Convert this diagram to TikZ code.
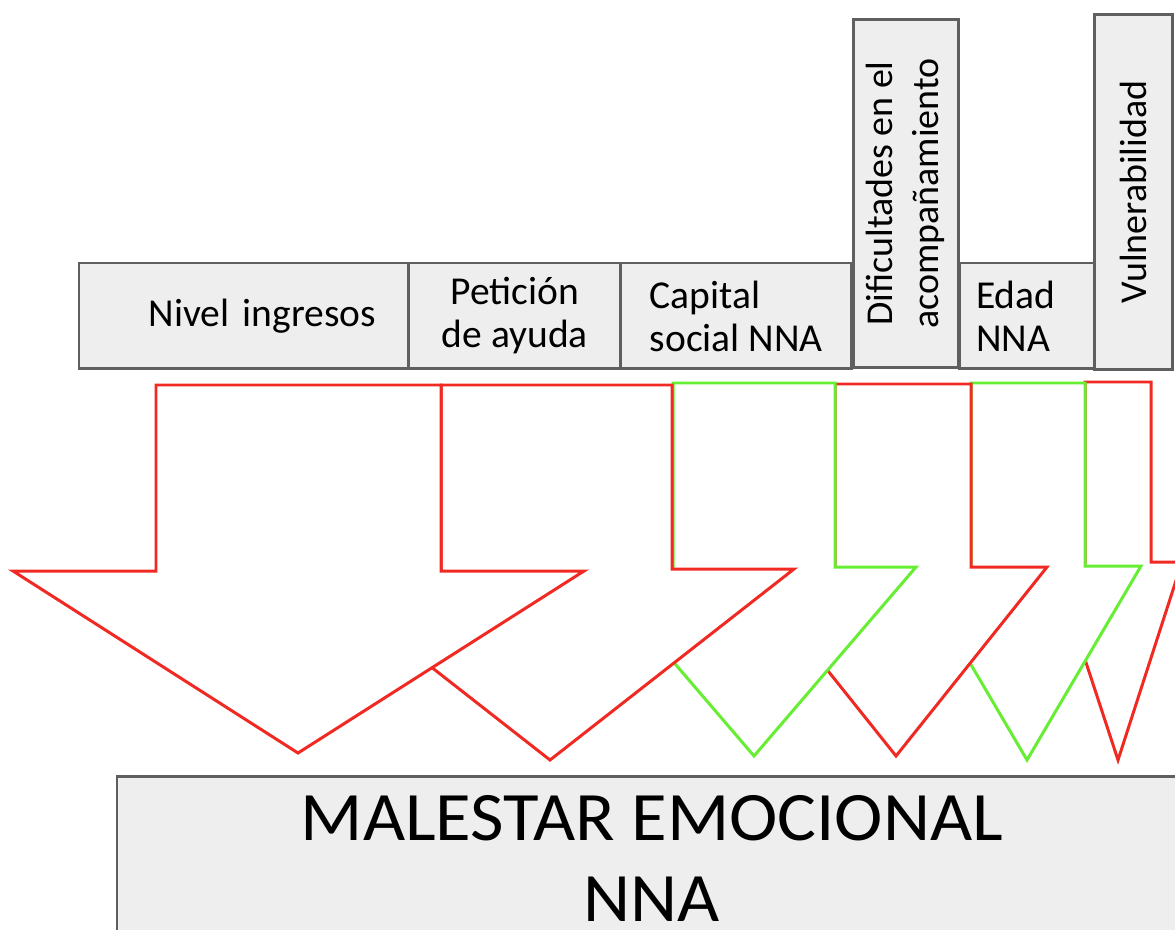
\documentclass[tikz,border=0pt]{standalone}
\usepackage{fontspec}
\setmainfont{Carlito}
\usetikzlibrary{positioning}
\definecolor{boxfill}{HTML}{EEEEEE}
\definecolor{boxline}{HTML}{5F5F5F}
\definecolor{arrowred}{HTML}{F02A22}
\definecolor{arrowgreen}{HTML}{66EE33}
\begin{document}
\begin{tikzpicture}[x=0.02cm, y=-0.02cm]
    \tikzstyle{factor} = [draw=boxline, fill=boxfill, line width=1.7pt, outer sep=0pt, inner sep=0.1cm,
                          minimum height=2.12cm, font=\fontsize{22.5}{24.5}\selectfont]
    \tikzstyle{upright} = [factor, rotate=90, align=center, font=\fontsize{21.6}{26}\selectfont]
    \tikzstyle{outcome} = [factor, align=center, font=\addfontfeatures{FakeStretch=1.05}\fontsize{39.5}{46}\selectfont]
    \tikzstyle{negative} = [draw=arrowred, fill=white, line width=1.7pt]
    \tikzstyle{positive} = [draw=arrowgreen, fill=white, line width=1.7pt]

    \useasboundingbox (0,0) rectangle (1175,929);
    \clip (0,0) rectangle (1175,929);

    % factores
    \node [factor, anchor=north west, minimum width=6.6cm, text width=5.28cm, inner xsep=0.66cm, align=right]
        (ingresos) at (79,263) {Nivel ingresos};
    \node [factor, right=0pt of ingresos, minimum width=4.24cm, align=center] (ayuda) {Petición\\de ayuda};
    \node [factor, right=0pt of ayuda, minimum width=4.62cm, align=left] (capital) {Capital\\social NNA};
    \node [upright, minimum width=6.98cm, minimum height=2.1cm] (acompanamiento) at (905.5,193.5)
        {Dificultades en el\\acompañamiento};
    \node [factor, anchor=north west, minimum width=2.7cm, text width=2.02cm, inner xsep=0.34cm, align=left]
        (edad) at (959,263) {Edad\\NNA};
    \node [upright, minimum width=7.12cm, minimum height=1.56cm] (vulnerabilidad) at (1133,192) {Vulnerabilidad};

    % resultado
    \node [outcome, anchor=north west, minimum width=21.4cm, minimum height=3.3cm] (malestar) at (117,776)
        {MALESTAR EMOCIONAL\\NNA};

    % flechas, de la derecha hacia la izquierda
    \draw [negative] (1085,382) -- (1151,382) -- (1151,562) -- (1182,562) -- (1118,760) -- (1053,562) -- (1085,562) -- cycle;
    \draw [positive] (971,383) -- (1085,383) -- (1085,566) -- (1141,566) -- (1027,760) -- (913,566) -- (971,566) -- cycle;
    \draw [negative] (835,384) -- (971,384) -- (971,567) -- (1047,567) -- (896,756) -- (745,567) -- (835,567) -- cycle;
    \draw [positive] (673,383) -- (835,383) -- (835,567) -- (916,567) -- (754,756) -- (592,567) -- (673,567) -- cycle;
    \draw [negative] (441,385) -- (672,385) -- (672,569) -- (794,569) -- (550,760) -- (306,569) -- (441,569) -- cycle;
    \draw [negative] (156,385) -- (441,385) -- (441,571) -- (584,571) -- (298,753) -- (13,571) -- (156,571) -- cycle;
\end{tikzpicture}
\end{document}
